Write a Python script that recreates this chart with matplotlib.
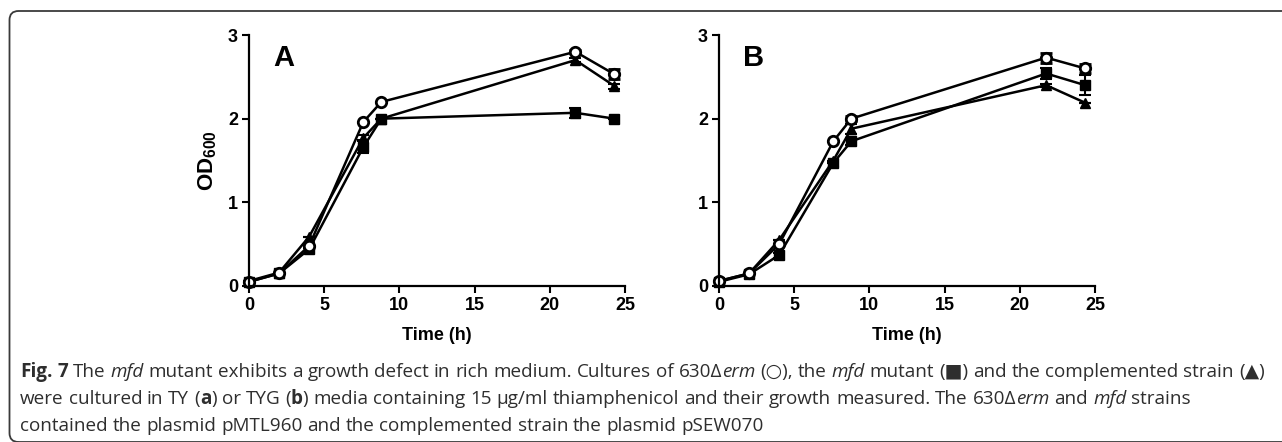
import re
import matplotlib
matplotlib.use("Agg")
import matplotlib.pyplot as plt
from matplotlib.patches import FancyBboxPatch

plt.rcParams['font.family'] = ['Liberation Sans', 'DejaVu Sans']
plt.rcParams['mathtext.fontset'] = 'custom'
plt.rcParams['mathtext.bf'] = 'Liberation Sans:bold'
plt.rcParams['mathtext.rm'] = 'Liberation Sans'

# sampling times (h)
time_a = [0, 2, 4, 7.6, 8.8, 21.7, 24.3]
time_b = [0, 2, 4, 7.6, 8.8, 21.75, 24.35]

# panel A (TY)
wt_a = [0.05, 0.15, 0.48, 1.96, 2.20, 2.80, 2.53]
wt_a_err = [0.0, 0.0, 0.0, 0.0, 0.0, 0.02, 0.06]
mfd_a = [0.05, 0.15, 0.44, 1.66, 2.00, 2.07, 2.00]
mfd_a_err = [0.0, 0.0, 0.02, 0.07, 0.0, 0.06, 0.0]
comp_a = [0.06, 0.16, 0.59, 1.77, 2.00, 2.70, 2.39]
comp_a_err = [0.0, 0.0, 0.0, 0.03, 0.0, 0.02, 0.03]

# panel B (TYG)
wt_b = [0.06, 0.15, 0.50, 1.73, 2.00, 2.73, 2.60]
wt_b_err = [0.0, 0.0, 0.0, 0.0, 0.03, 0.06, 0.05]
mfd_b = [0.05, 0.14, 0.37, 1.47, 1.73, 2.54, 2.40]
mfd_b_err = [0.0, 0.0, 0.03, 0.0, 0.04, 0.06, 0.12]
comp_b = [0.06, 0.15, 0.55, 1.50, 1.88, 2.40, 2.19]
comp_b_err = [0.0, 0.0, 0.0, 0.0, 0.06, 0.02, 0.0]

panel_labels = ['A', 'B']
x_ticks = [0, 5, 10, 15, 20, 25]
y_ticks = [0, 1, 2, 3]

caption = [
    "**Fig. 7** The *mfd* mutant exhibits a growth defect in rich medium. Cultures of 630Δ*erm* (○), the *mfd* mutant (■) and the complemented strain (▲)",
    "were cultured in TY (**a**) or TYG (**b**) media containing 15 µg/ml thiamphenicol and their growth measured. The 630Δ*erm* and *mfd* strains",
    "contained the plasmid pMTL960 and the complemented strain the plasmid pSEW070",
]

W, H = 1282, 442
fig = plt.figure(figsize=(W / 100, H / 100), dpi=100)

# rounded frame around figure + caption (right side runs off the image)
frame = FancyBboxPatch((0.095, 0.0), 14.0, 4.31, boxstyle="round,pad=0,rounding_size=0.09",
                       transform=fig.dpi_scale_trans, fill=False, ec='#3a3a3a', lw=1.3)
fig.patches.append(frame)

panels = [
    (time_a, wt_a, wt_a_err, mfd_a, mfd_a_err, comp_a, comp_a_err, 249),
    (time_b, wt_b, wt_b_err, mfd_b, mfd_b_err, comp_b, comp_b_err, 719),
]

for i, (t, wt, wte, mf, mfe, cp, cpe, left) in enumerate(panels):
    ax = fig.add_axes([left / W, 1 - 286 / H, 376 / W, 251 / H])
    common = dict(color='black', lw=1.8, capsize=4, elinewidth=1.5, capthick=1.5, clip_on=False)
    e1 = ax.errorbar(t, cp, yerr=cpe, marker='^', ms=7.5, mfc='black', mec='black', **common)
    e2 = ax.errorbar(t, mf, yerr=mfe, marker='s', ms=6.5, mfc='black', mec='black', **common)
    e3 = ax.errorbar(t, wt, yerr=wte, marker='o', ms=7.5, mfc='white', mec='black', mew=2, **common)
    for e in (e1, e2, e3):
        for art in e.lines[1] + e.lines[2]:
            art.set_clip_on(False)
    ax.set_xlim(0, 25)
    ax.set_ylim(0, 3)
    ax.set_xticks(x_ticks)
    ax.set_yticks(y_ticks)
    for s in ['top', 'right']:
        ax.spines[s].set_visible(False)
    for s in ['left', 'bottom']:
        ax.spines[s].set_linewidth(1.6)
    ax.tick_params(direction='out', length=5, width=1.5, labelsize=13, pad=3)
    for lab in ax.get_xticklabels() + ax.get_yticklabels():
        lab.set_fontweight('bold')
    ax.set_xlabel('Time (h)', fontsize=13, fontweight='bold', labelpad=9)
    if i == 0:
        ax.set_ylabel(r'$\mathbf{OD}_{\mathbf{600}}$', fontsize=16, labelpad=6)
    ax.text(0.065, 0.91, panel_labels[i], transform=ax.transAxes, fontsize=21,
            fontweight='bold', va='center', ha='left')

# caption with mixed bold / italic runs
cap_font = ['Open Sans', 'DejaVu Sans']
cap_size = 13.6
cap_color = '#2e2e2e'
fig.canvas.draw()
renderer = fig.canvas.get_renderer()


def text_w(s, **kw):
    t = fig.text(0, 0, s, family=cap_font, fontsize=cap_size, **kw)
    w = t.get_window_extent(renderer).width
    t.remove()
    return w


space_w = text_w('x x') - text_w('xx')


def draw_rich(x, y, src):
    for part in re.split(r'(\*\*.+?\*\*|\*.+?\*)', src):
        if not part:
            continue
        kw = {}
        if part.startswith('**'):
            part = part[2:-2]
            kw['fontweight'] = 'bold'
        elif part.startswith('*'):
            part = part[1:-1]
            kw['fontstyle'] = 'italic'
        for j, word in enumerate(part.split(' ')):
            if j > 0:
                x += space_w
            if word:
                t = fig.text(x / W, 1 - y / H, word, family=cap_font, fontsize=cap_size,
                             color=cap_color, va='center', ha='left', **kw)
                x += t.get_window_extent(renderer).width


for k, line in enumerate(caption):
    draw_rich(20, 372 + 27 * k, line)

fig.savefig('out.png', dpi=100)
